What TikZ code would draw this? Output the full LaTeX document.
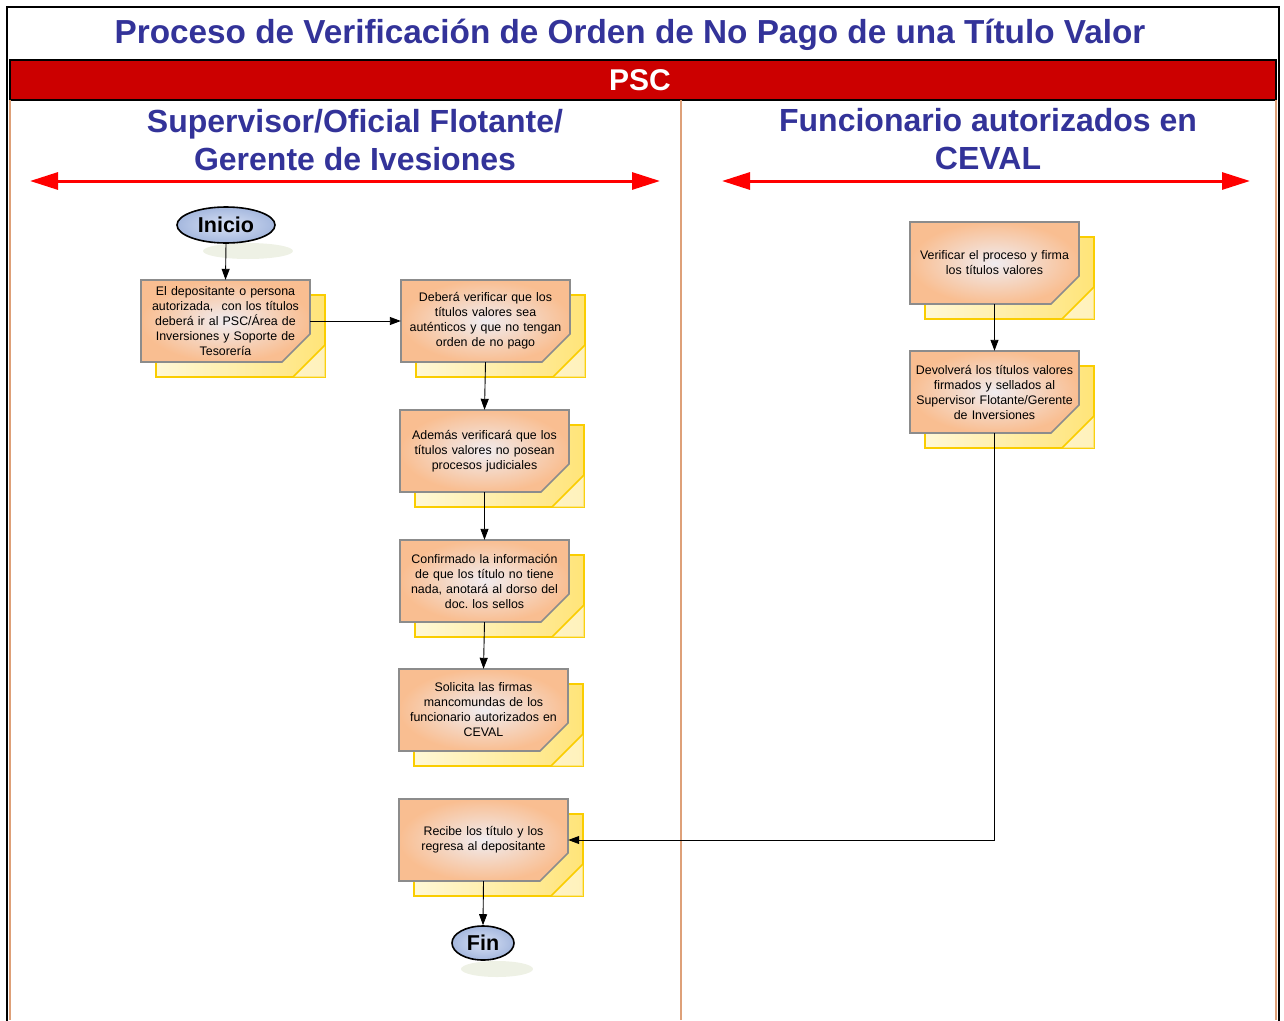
\documentclass[tikz,border=0pt]{standalone}
\usepackage{fontspec}
\setmainfont{Liberation Sans}
\frenchspacing
\usetikzlibrary{arrows.meta,shapes.geometric}
\definecolor{titleblue}{RGB}{51,51,153}
\definecolor{bandred}{RGB}{204,0,0}
\definecolor{lanetan}{RGB}{222,160,120}
\definecolor{boxgray}{RGB}{140,140,140}
\definecolor{peach}{RGB}{249,190,145}
\definecolor{peachin}{RGB}{240,236,240}
\definecolor{gold}{RGB}{250,205,0}
\definecolor{ylight}{RGB}{255,248,215}
\definecolor{ydark}{RGB}{255,228,120}
\definecolor{ovalin}{RGB}{215,224,244}
\definecolor{ovalout}{RGB}{165,184,222}
\definecolor{shadowc}{RGB}{238,241,229}
\tikzset{
  frontbox/.style={draw=boxgray, line width=1.6pt, inner color=peachin, outer color=peach},
  backbox/.style={draw=gold, line width=1.6pt, left color=ylight, right color=ydark},
  backline/.style={draw=gold, line width=1.6pt},
  boxtext/.style={text width=166pt, align=center, font=\fontsize{12.4}{15}\selectfont, inner sep=0pt, minimum width=169pt, minimum height=82pt},
  flow/.style={-{Triangle[length=11pt,width=8pt]}, line width=0.9pt},
  lanehead/.style={font=\fontsize{32}{38}\selectfont\bfseries, text=titleblue, align=center},
  redarrow/.style={{Triangle[length=28pt,width=17pt]}-{Triangle[length=28pt,width=17pt]}, line width=3pt, draw=red},
  termin/.style={ellipse, draw=black, line width=1.6pt, inner color=ovalin, outer color=ovalout, font=\fontsize{21.5}{23}\selectfont\bfseries, inner sep=0pt},
}
\newcommand\procbox[4]{%
  \begin{scope}[shift={(#2,#3)}]
    \draw[backbox] (15,15) rectangle (184,97);
    \fill[white, opacity=0.5] (184,65) -- (184,97) -- (152,97) -- cycle;
    \draw[backline] (184,65) -- (152,97);
    \draw[frontbox] (0,0) -- (169,0) -- (169,54) -- (141,82) -- (0,82) -- cycle;
    \node[boxtext] (#1) at (84.5,41) {#4};
  \end{scope}}
\begin{document}
\begin{tikzpicture}[x=1pt,y=-1pt]
\useasboundingbox (0,0) rectangle (1284,1020);
% frame
\draw[line width=2.5pt] (7,1030) -- (7,7) -- (1279,7) -- (1279,1030);
\node[font=\fontsize{33.3}{36}\selectfont\bfseries, text=titleblue] (title) at (630,35) {Proceso de Verificación de Orden de No Pago de una Título Valor};
% band
\draw[fill=bandred, line width=1.5pt] (10,60) rectangle (1276,100);
\node[font=\fontsize{30}{32}\selectfont\bfseries, text=white] (psc) at (640,80) {PSC};
% lanes
\draw[lanetan, line width=1.5pt] (10,100) -- (10,1020);
\draw[lanetan, line width=1.5pt] (681,100) -- (681,1020);
\draw[lanetan, line width=1.5pt] (1276,100) -- (1276,1020);
\node[lanehead] (lane1) at (355,140) {Supervisor/Oficial Flotante/\\Gerente de Ivesiones};
\node[lanehead] (lane2) at (988,139) {Funcionario autorizados en\\CEVAL};
\coordinate (a1l) at (30,181); \coordinate (a1r) at (660,181);
\coordinate (a2l) at (722,181); \coordinate (a2r) at (1250,181);
\draw[redarrow] (a1l) -- (a1r);
\draw[redarrow] (a2l) -- (a2r);
% terminators
\fill[shadowc] (248,251) ellipse (45pt and 8pt);
\node[termin, minimum width=98pt, minimum height=36pt] (inicio) at (226,225) {Inicio};
\fill[shadowc] (497,969) ellipse (36pt and 8pt);
% boxes
\procbox{b1}{141}{280}{El depositante o persona\\autorizada,\ \ con los títulos\\deberá ir al PSC/Área de\\Inversiones y Soporte de\\Tesorería}
\procbox{b2}{401}{280}{Deberá verificar que los\\títulos valores sea\\auténticos y que no tengan\\orden de no pago}
\procbox{b3}{400}{410}{Además verificará que los\\títulos valores no posean\\procesos judiciales}
\procbox{b4}{400}{540}{Confirmado la información\\de que los título no tiene\\nada, anotará al dorso del\\doc. los sellos}
\procbox{b5}{399}{669}{Solicita las firmas\\mancomundas de los\\funcionario autorizados en\\CEVAL}
\procbox{b6}{399}{799}{Recibe los título y los\\regresa al depositante}
\procbox{r1}{910}{222}{Verificar el proceso y firma\\los títulos valores}
\procbox{r2}{910}{351}{Devolverá los títulos valores\\firmados y sellados al\\Supervisor Flotante/Gerente\\de Inversiones}
\node[termin, minimum width=62pt, minimum height=34pt] (fin) at (483,943) {Fin};
% connectors
\draw[flow] (inicio.south) -- (b1.north);
\draw[flow] (b1.east) -- (b2.west);
\draw[flow] (b2.south) -- (b3.north);
\draw[flow] (b3.south) -- (b4.north);
\draw[flow] (b4.south) -- (b5.north);
\draw[flow] (b6.south) -- (fin.north);
\draw[flow] (r1.south) -- (r2.north);
\draw[flow] (r2.south) |- (b6.east);
\end{tikzpicture}
\end{document}
